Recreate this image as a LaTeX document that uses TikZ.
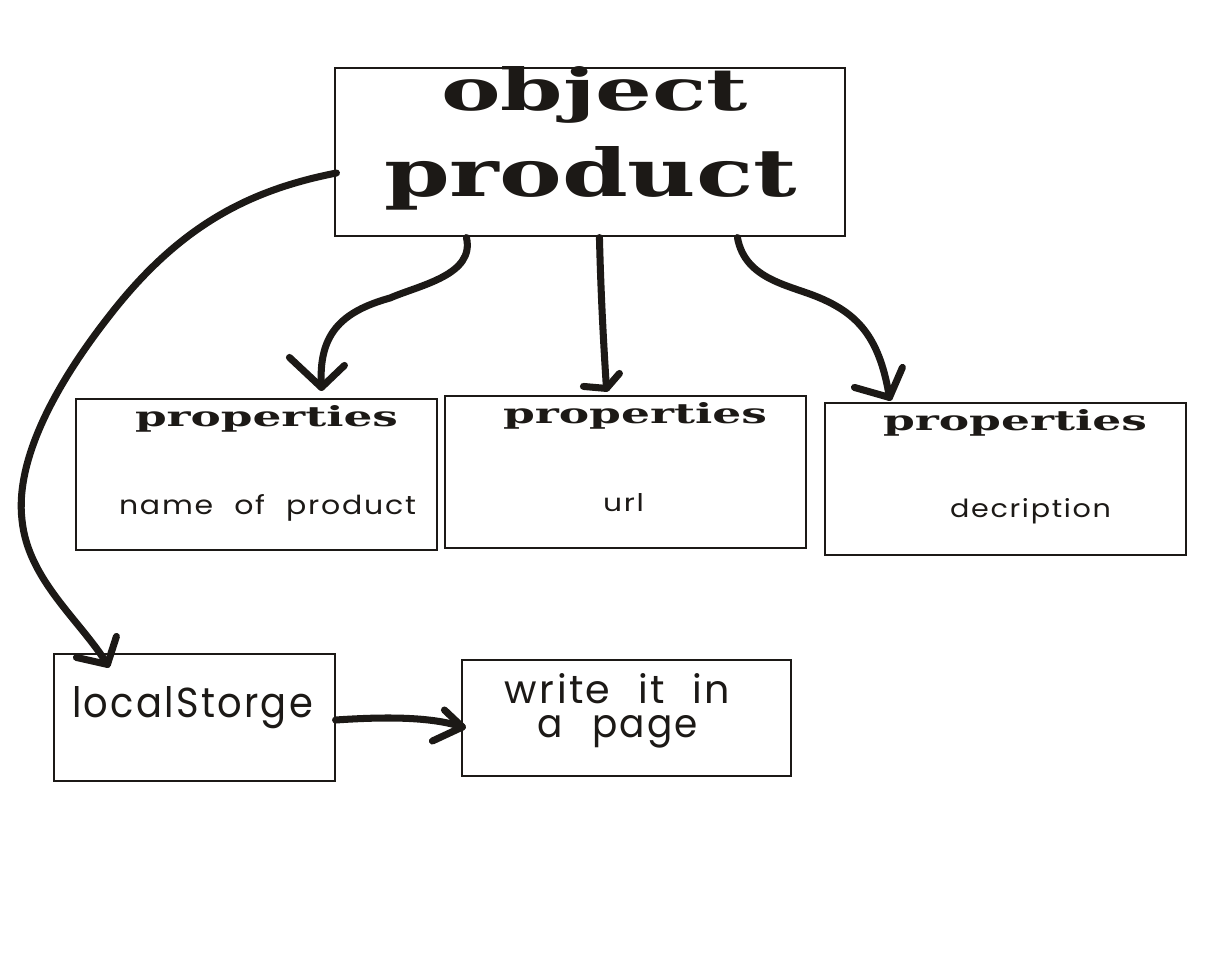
\documentclass[tikz,border=0pt]{standalone}
\usepackage{fontspec}
\usepackage{graphicx}
\usetikzlibrary{calc}
\setmainfont{DejaVu Serif}
\newfontfamily\heavy{DejaVu Serif}
\newfontfamily\geo{Poppins}[LetterSpace=6]
\newlength\PX
\setlength\PX{0.025cm}
\definecolor{ink}{RGB}{28,25,22}
\tikzset{
  box/.style={draw=ink, line width=0.8pt, rectangle, inner sep=0pt, fill=none},
  txt/.style={inner sep=0pt, outer sep=0pt, anchor=base west, text=ink},
  conn/.style={draw=ink, line width=5pt, line cap=round, line join=round},
}
\newcommand{\fitt}[3]{\resizebox{#1\PX}{#2\PX}{#3}}
\begin{document}
\begin{tikzpicture}[x=\PX, y=-\PX]
\useasboundingbox[fill=white] (0,0) rectangle (1208,965);
% boxes
\node[box, minimum width=510\PX, minimum height=168\PX] (op) at (590,152) {};
\node[box, minimum width=361\PX, minimum height=151\PX] (p1) at (256.5,474.5) {};
\node[box, minimum width=361\PX, minimum height=152\PX] (p2) at (625.5,472) {};
\node[box, minimum width=361\PX, minimum height=152\PX] (p3) at (1005.5,479) {};
\node[box, minimum width=281\PX, minimum height=127\PX] (ls) at (194.5,717.5) {};
\node[box, minimum width=329\PX, minimum height=116\PX] (wp) at (626.5,718) {};
% texts
\node[txt] (t-object) at (441,111) {\fitt{307}{44}{\heavy\bfseries object}};
\node[txt] (t-product) at (384,197) {\fitt{413}{50}{\heavy\bfseries product}};
\node[txt] (t-prop1) at (135,426) {\fitt{263}{21}{\heavy\bfseries properties}};
\node[txt] (t-prop2) at (503,423) {\fitt{264}{21}{\heavy\bfseries properties}};
\node[txt] (t-prop3) at (883,430) {\fitt{264}{21}{\heavy\bfseries properties}};
\node[txt] (t-name) at (119,514) {\fitt{297}{20}{\geo name\hspace{0.7em}of\hspace{0.7em}product}};
\node[txt] (t-url) at (603,511) {\fitt{41}{18}{\geo url}};
\node[txt] (t-desc) at (950,517) {\fitt{161}{19}{\geo decription}};
\node[txt] (t-ls) at (72,717) {\fitt{241}{31}{\geo localStorge}};
\node[txt, anchor=north west] (t-write) at (505,673) {\vbox{\offinterlineskip
  \hbox to 225\PX{\hss\fitt{225}{30}{\geo write\hspace{0.7em}it\hspace{0.7em}in}\hss}
  \vskip 12\PX
  \hbox to 225\PX{\hss\fitt{161}{22}{\geo a\hspace{0.8em}page}\hss}}};
% connector end points
\coordinate (s1) at ($(op.west)+(2,21)$);
\coordinate (e1) at ($(ls.north west)+(54,11)$);
\coordinate (s2) at ($(op.south west)+(132,1)$);
\coordinate (e2) at ($(p1.north west)+(246,-11)$);
\coordinate (s3) at ($(op.south west)+(265,1)$);
\coordinate (e3) at ($(p2.north west)+(162,-7)$);
\coordinate (s4) at ($(op.south west)+(403,1)$);
\coordinate (e4) at ($(p3.north west)+(65,-5)$);
\coordinate (s5) at ($(ls.east)+(0,2.5)$);
\coordinate (e5) at ($(wp.west)+(1,9)$);
% connectors
\draw[conn] (s1) .. controls (250,190) and (180,225) .. (110,315)
  .. controls (55,385) and (15,460) .. (22,520)
  .. controls (28,580) and (80,620) .. (e1);
\draw[conn] ($(e1)+(-31,-7)$) -- (e1) -- ($(e1)+(9,-28)$);
\draw[conn] (s2) .. controls (475,275) and (420,285) .. (390,298)
  .. controls (340,312) and (318,335) .. (e2);
\draw[conn] ($(e2)+(-32,-30)$) -- (e2) -- ($(e2)+(23,-22)$);
\draw[conn] (s3) .. controls (601,300) and (604,350) .. (e3);
\draw[conn] ($(e3)+(-23,-2)$) -- (e3) -- ($(e3)+(13,-15)$);
\draw[conn] (s4) .. controls (745,280) and (790,285) .. (820,298)
  .. controls (860,315) and (880,340) .. (e4);
\draw[conn] ($(e4)+(-35,-10)$) -- (e4) -- ($(e4)+(13,-30)$);
\draw[conn] (s5) .. controls (380,717) and (430,716) .. (e5);
\draw[conn] ($(e5)+(-18,-17)$) -- (e5) -- ($(e5)+(-30,14)$);
\end{tikzpicture}
\end{document}
